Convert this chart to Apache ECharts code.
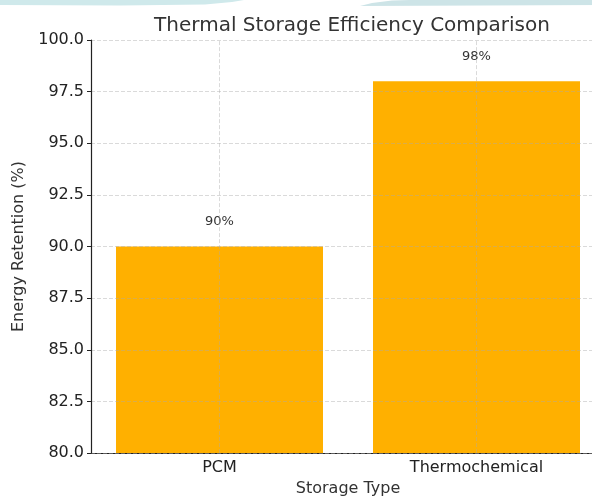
<!DOCTYPE html>
<html><head><meta charset="utf-8">
<script src="https://cdn.jsdelivr.net/npm/echarts@6/dist/echarts.min.js"></script>
<style>html,body{margin:0;padding:0;background:#fff;overflow:hidden}#c{width:605px;height:502px}</style>
</head><body><div id="c"></div>
<script>
const categories = ['PCM', 'Thermochemical'];
const retention = [90, 98];
const valueLabels = ['90%', '98%'];
const yMin = 80, yMax = 100, yStep = 2.5;

const font = 'DejaVu Sans';
const grid = 'rgba(170,170,170,0.55)';
const chart = echarts.init(document.getElementById('c'), null, {renderer: 'canvas'});
chart.setOption({
  animation: false,
  backgroundColor: '#ffffff',
  graphic: [
    {type: 'polygon', silent: true, z: 0,
     shape: {points: [[0,0],[244,0],[232,2],[205,4.5],[120,5.5],[0,5]]},
     style: {fill: '#cfe9eb'}},
    {type: 'polygon', silent: true, z: 0,
     shape: {points: [[360,6],[372,3],[392,0.5],[410,0],[605,0],[605,5]]},
     style: {fill: '#cde4e7'}}
  ],
  title: {
    text: 'Thermal Storage Efficiency Comparison',
    left: 347, top: 11, textAlign: 'center',
    textStyle: {fontFamily: font, fontSize: 20, fontWeight: 'normal', color: '#333'}
  },
  grid: {left: 91, right: 0, top: 40, bottom: 43, containLabel: false},
  xAxis: {
    type: 'category', data: categories,
    name: 'Storage Type', nameLocation: 'middle', nameGap: 27,
    nameTextStyle: {fontFamily: font, fontSize: 16, color: '#333'},
    axisLine: {lineStyle: {color: '#222', width: 1.2}},
    axisTick: {alignWithLabel: true, length: 4, lineStyle: {color: '#222'}},
    axisLabel: {fontFamily: font, fontSize: 16, color: '#222', margin: 7},
    splitLine: {show: false}
  },
  yAxis: {
    type: 'value', min: yMin, max: yMax, interval: yStep, z: 3,
    name: 'Energy Retention (%)', nameLocation: 'middle', nameGap: 60,
    nameTextStyle: {fontFamily: font, fontSize: 16, color: '#333'},
    axisLine: {show: true, lineStyle: {color: '#222', width: 1.2}},
    axisTick: {show: true, length: 4, lineStyle: {color: '#222'}},
    axisLabel: {fontFamily: font, fontSize: 16, color: '#222', margin: 7,
                formatter: v => v.toFixed(1)},
    splitLine: {show: true, lineStyle: {color: grid, type: [4, 2], width: 0.8}}
  },
  series: [{
    type: 'bar', data: retention, barWidth: 207,
    itemStyle: {color: '#ffb000'},
    label: {show: true, position: 'top', distance: 18,
            fontFamily: font, fontSize: 13, color: '#333',
            formatter: p => valueLabels[p.dataIndex]},
    markLine: {
      silent: true, symbol: 'none', z: 5,
      label: {show: false},
      lineStyle: {color: grid, type: [4, 2], width: 0.8},
      data: categories.map(c => ({xAxis: c}))
    }
  }]
});
</script></body></html>
